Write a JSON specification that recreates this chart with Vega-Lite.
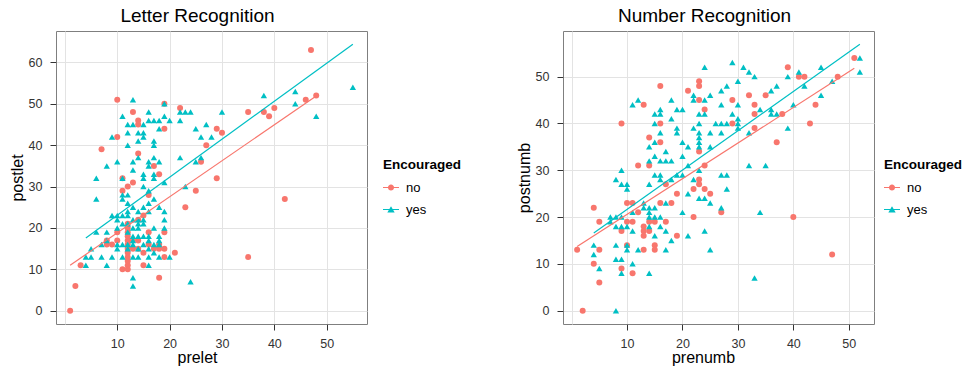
{
  "$schema": "https://vega.github.io/schema/vega-lite/v6.json",
  "padding": {"left": 8, "top": 6, "right": 0, "bottom": 0},
  "spacing": 52,
  "config": {
    "font": "Liberation Sans",
    "view": {"stroke": "#7F7F7F", "strokeWidth": 1},
    "axis": {"labelFontSize": 12.5, "labelColor": "#333333", "titleFontSize": 16, "titleFontWeight": "normal", "titleColor": "#000000", "tickSize": 6, "labelPadding": 8, "domain": false, "gridWidth": 1,
      "gridColor": {"condition": {"test": "datum.value % 10 != 0", "value": "#F3F3F3"}, "value": "#E3E3E3"},
      "tickColor": {"condition": {"test": "datum.value % 10 != 0", "value": "transparent"}, "value": "#333333"},
      "labelExpr": "datum.value % 10 == 0 ? datum.label : ''"},
    "axisX": {"titlePadding": 0, "labelPadding": 7},
    "axisY": {"titlePadding": 3},
    "title": {"fontSize": 19, "fontWeight": "normal", "color": "#000000", "offset": 5, "anchor": "middle", "frame": "group", "dx": -14},
    "legend": {"titleFontSize": 13.5, "titleFontWeight": "bold", "titleColor": "#000000", "labelFontSize": 13, "labelColor": "#000000", "symbolSize": 256, "symbolStrokeWidth": 0, "rowPadding": 7, "labelOffset": 7, "titlePadding": 8,
      "symbolType": {"expr": "datum.value == 'no' ? 'M-1,-0.06H1V0.06H-1Z M0.38,0A0.38,0.38,0,1,1,-0.38,0A0.38,0.38,0,1,1,0.38,0Z' : 'M-1,-0.06H1V0.06H-1Z M0,-0.42L0.46,0.38L-0.46,0.38Z'"}}
  },
  "datasets": {
    "letter": [
      {"prelet":1,"postlet":0,"Encouraged":"no"},{"prelet":2,"postlet":6,"Encouraged":"no"},{"prelet":3,"postlet":11,"Encouraged":"no"},{"prelet":47,"postlet":63,"Encouraged":"no"},{"prelet":48,"postlet":52,"Encouraged":"no"},{"prelet":46,"postlet":51,"Encouraged":"no"},{"prelet":40,"postlet":49,"Encouraged":"no"},{"prelet":38,"postlet":48,"Encouraged":"no"},{"prelet":39,"postlet":47,"Encouraged":"no"},{"prelet":35,"postlet":48,"Encouraged":"no"},{"prelet":42,"postlet":27,"Encouraged":"no"},{"prelet":35,"postlet":13,"Encouraged":"no"},{"prelet":29,"postlet":44,"Encouraged":"no"},{"prelet":30,"postlet":43,"Encouraged":"no"},{"prelet":27,"postlet":40,"Encouraged":"no"},{"prelet":26,"postlet":36,"Encouraged":"no"},{"prelet":29,"postlet":32,"Encouraged":"no"},{"prelet":25,"postlet":29,"Encouraged":"no"},{"prelet":23,"postlet":25,"Encouraged":"no"},{"prelet":22,"postlet":49,"Encouraged":"no"},{"prelet":21,"postlet":14,"Encouraged":"no"},{"prelet":19,"postlet":44,"Encouraged":"no"},{"prelet":19,"postlet":50,"Encouraged":"no"},{"prelet":18,"postlet":33,"Encouraged":"no"},{"prelet":17,"postlet":35,"Encouraged":"no"},{"prelet":18,"postlet":8,"Encouraged":"no"},{"prelet":19,"postlet":15,"Encouraged":"no"},{"prelet":19,"postlet":13,"Encouraged":"no"},{"prelet":19,"postlet":19,"Encouraged":"no"},{"prelet":18,"postlet":16,"Encouraged":"no"},{"prelet":16,"postlet":19,"Encouraged":"no"},{"prelet":16,"postlet":16,"Encouraged":"no"},{"prelet":17,"postlet":15,"Encouraged":"no"},{"prelet":18,"postlet":15,"Encouraged":"no"},{"prelet":16,"postlet":28,"Encouraged":"no"},{"prelet":15,"postlet":23,"Encouraged":"no"},{"prelet":15,"postlet":14,"Encouraged":"no"},{"prelet":15,"postlet":11,"Encouraged":"no"},{"prelet":14,"postlet":17,"Encouraged":"no"},{"prelet":14,"postlet":15,"Encouraged":"no"},{"prelet":14,"postlet":38,"Encouraged":"no"},{"prelet":14,"postlet":46,"Encouraged":"no"},{"prelet":14,"postlet":45,"Encouraged":"no"},{"prelet":13,"postlet":48,"Encouraged":"no"},{"prelet":13,"postlet":31,"Encouraged":"no"},{"prelet":12,"postlet":30,"Encouraged":"no"},{"prelet":11,"postlet":32,"Encouraged":"no"},{"prelet":11,"postlet":29,"Encouraged":"no"},{"prelet":10,"postlet":51,"Encouraged":"no"},{"prelet":10,"postlet":42,"Encouraged":"no"},{"prelet":7,"postlet":39,"Encouraged":"no"},{"prelet":11,"postlet":10,"Encouraged":"no"},{"prelet":12,"postlet":10,"Encouraged":"no"},{"prelet":12,"postlet":11,"Encouraged":"no"},{"prelet":12,"postlet":12,"Encouraged":"no"},{"prelet":12,"postlet":13,"Encouraged":"no"},{"prelet":12,"postlet":14,"Encouraged":"no"},{"prelet":12,"postlet":15,"Encouraged":"no"},{"prelet":12,"postlet":16,"Encouraged":"no"},{"prelet":12,"postlet":17,"Encouraged":"no"},{"prelet":12,"postlet":18,"Encouraged":"no"},{"prelet":12,"postlet":19,"Encouraged":"no"},{"prelet":12,"postlet":20,"Encouraged":"no"},{"prelet":12,"postlet":21,"Encouraged":"no"},{"prelet":13,"postlet":15,"Encouraged":"no"},{"prelet":13,"postlet":17,"Encouraged":"no"},{"prelet":10,"postlet":19,"Encouraged":"no"},{"prelet":10,"postlet":17,"Encouraged":"no"},{"prelet":9,"postlet":16,"Encouraged":"no"},{"prelet":8,"postlet":16,"Encouraged":"no"},{"prelet":8,"postlet":17,"Encouraged":"no"},{"prelet":14,"postlet":22,"Encouraged":"no"},
      {"prelet":55,"postlet":54,"Encouraged":"yes"},{"prelet":44,"postlet":53,"Encouraged":"yes"},{"prelet":38,"postlet":52,"Encouraged":"yes"},{"prelet":44,"postlet":50,"Encouraged":"yes"},{"prelet":48,"postlet":47,"Encouraged":"yes"},{"prelet":30,"postlet":48,"Encouraged":"yes"},{"prelet":13,"postlet":51,"Encouraged":"yes"},{"prelet":19,"postlet":50,"Encouraged":"yes"},{"prelet":16,"postlet":48,"Encouraged":"yes"},{"prelet":22,"postlet":48,"Encouraged":"yes"},{"prelet":23,"postlet":48,"Encouraged":"yes"},{"prelet":24,"postlet":48,"Encouraged":"yes"},{"prelet":19,"postlet":47,"Encouraged":"yes"},{"prelet":20,"postlet":46,"Encouraged":"yes"},{"prelet":18,"postlet":46,"Encouraged":"yes"},{"prelet":17,"postlet":46,"Encouraged":"yes"},{"prelet":16,"postlet":46,"Encouraged":"yes"},{"prelet":22,"postlet":46,"Encouraged":"yes"},{"prelet":11,"postlet":47,"Encouraged":"yes"},{"prelet":12,"postlet":45,"Encouraged":"yes"},{"prelet":13,"postlet":45,"Encouraged":"yes"},{"prelet":15,"postlet":45,"Encouraged":"yes"},{"prelet":18,"postlet":44,"Encouraged":"yes"},{"prelet":25,"postlet":44,"Encouraged":"yes"},{"prelet":27,"postlet":45,"Encouraged":"yes"},{"prelet":12,"postlet":43,"Encouraged":"yes"},{"prelet":14,"postlet":43,"Encouraged":"yes"},{"prelet":15,"postlet":43,"Encouraged":"yes"},{"prelet":15,"postlet":42,"Encouraged":"yes"},{"prelet":9,"postlet":42,"Encouraged":"yes"},{"prelet":26,"postlet":42,"Encouraged":"yes"},{"prelet":28,"postlet":42,"Encouraged":"yes"},{"prelet":17,"postlet":41,"Encouraged":"yes"},{"prelet":14,"postlet":41,"Encouraged":"yes"},{"prelet":12,"postlet":40,"Encouraged":"yes"},{"prelet":17,"postlet":40,"Encouraged":"yes"},{"prelet":14,"postlet":37,"Encouraged":"yes"},{"prelet":22,"postlet":37,"Encouraged":"yes"},{"prelet":26,"postlet":37,"Encouraged":"yes"},{"prelet":25,"postlet":36,"Encouraged":"yes"},{"prelet":10,"postlet":36,"Encouraged":"yes"},{"prelet":13,"postlet":36,"Encouraged":"yes"},{"prelet":16,"postlet":36,"Encouraged":"yes"},{"prelet":17,"postlet":37,"Encouraged":"yes"},{"prelet":18,"postlet":36,"Encouraged":"yes"},{"prelet":8,"postlet":35,"Encouraged":"yes"},{"prelet":16,"postlet":35,"Encouraged":"yes"},{"prelet":13,"postlet":34,"Encouraged":"yes"},{"prelet":6,"postlet":32,"Encouraged":"yes"},{"prelet":11,"postlet":32,"Encouraged":"yes"},{"prelet":15,"postlet":33,"Encouraged":"yes"},{"prelet":15,"postlet":32,"Encouraged":"yes"},{"prelet":17,"postlet":33,"Encouraged":"yes"},{"prelet":17,"postlet":32,"Encouraged":"yes"},{"prelet":19,"postlet":31,"Encouraged":"yes"},{"prelet":23,"postlet":30,"Encouraged":"yes"},{"prelet":15,"postlet":30,"Encouraged":"yes"},{"prelet":16,"postlet":29,"Encouraged":"yes"},{"prelet":12,"postlet":28,"Encouraged":"yes"},{"prelet":11,"postlet":28,"Encouraged":"yes"},{"prelet":6,"postlet":27,"Encouraged":"yes"},{"prelet":11,"postlet":27,"Encouraged":"yes"},{"prelet":17,"postlet":27,"Encouraged":"yes"},{"prelet":12,"postlet":26,"Encouraged":"yes"},{"prelet":16,"postlet":26,"Encouraged":"yes"},{"prelet":13,"postlet":25,"Encouraged":"yes"},{"prelet":15,"postlet":25,"Encouraged":"yes"},{"prelet":18,"postlet":25,"Encouraged":"yes"},{"prelet":14,"postlet":24,"Encouraged":"yes"},{"prelet":12,"postlet":24,"Encouraged":"yes"},{"prelet":16,"postlet":24,"Encouraged":"yes"},{"prelet":19,"postlet":24,"Encouraged":"yes"},{"prelet":9,"postlet":23,"Encouraged":"yes"},{"prelet":10,"postlet":23,"Encouraged":"yes"},{"prelet":11,"postlet":23,"Encouraged":"yes"},{"prelet":12,"postlet":23,"Encouraged":"yes"},{"prelet":13,"postlet":22,"Encouraged":"yes"},{"prelet":14,"postlet":22,"Encouraged":"yes"},{"prelet":15,"postlet":22,"Encouraged":"yes"},{"prelet":10,"postlet":22,"Encouraged":"yes"},{"prelet":12,"postlet":21,"Encouraged":"yes"},{"prelet":14,"postlet":21,"Encouraged":"yes"},{"prelet":15,"postlet":21,"Encouraged":"yes"},{"prelet":6,"postlet":19,"Encouraged":"yes"},{"prelet":8,"postlet":19,"Encouraged":"yes"},{"prelet":10,"postlet":20,"Encouraged":"yes"},{"prelet":13,"postlet":20,"Encouraged":"yes"},{"prelet":14,"postlet":20,"Encouraged":"yes"},{"prelet":17,"postlet":20,"Encouraged":"yes"},{"prelet":19,"postlet":20,"Encouraged":"yes"},{"prelet":13,"postlet":18,"Encouraged":"yes"},{"prelet":14,"postlet":18,"Encouraged":"yes"},{"prelet":15,"postlet":18,"Encouraged":"yes"},{"prelet":16,"postlet":18,"Encouraged":"yes"},{"prelet":8,"postlet":17,"Encouraged":"yes"},{"prelet":13,"postlet":17,"Encouraged":"yes"},{"prelet":16,"postlet":17,"Encouraged":"yes"},{"prelet":18,"postlet":17,"Encouraged":"yes"},{"prelet":7,"postlet":16,"Encouraged":"yes"},{"prelet":10,"postlet":16,"Encouraged":"yes"},{"prelet":11,"postlet":16,"Encouraged":"yes"},{"prelet":12,"postlet":16,"Encouraged":"yes"},{"prelet":13,"postlet":16,"Encouraged":"yes"},{"prelet":15,"postlet":16,"Encouraged":"yes"},{"prelet":17,"postlet":16,"Encouraged":"yes"},{"prelet":18,"postlet":16,"Encouraged":"yes"},{"prelet":5,"postlet":15,"Encouraged":"yes"},{"prelet":10,"postlet":15,"Encouraged":"yes"},{"prelet":12,"postlet":15,"Encouraged":"yes"},{"prelet":14,"postlet":15,"Encouraged":"yes"},{"prelet":16,"postlet":15,"Encouraged":"yes"},{"prelet":4,"postlet":13,"Encouraged":"yes"},{"prelet":5,"postlet":13,"Encouraged":"yes"},{"prelet":7,"postlet":13,"Encouraged":"yes"},{"prelet":9,"postlet":13,"Encouraged":"yes"},{"prelet":11,"postlet":13,"Encouraged":"yes"},{"prelet":13,"postlet":13,"Encouraged":"yes"},{"prelet":14,"postlet":13,"Encouraged":"yes"},{"prelet":16,"postlet":13,"Encouraged":"yes"},{"prelet":18,"postlet":13,"Encouraged":"yes"},{"prelet":20,"postlet":13,"Encouraged":"yes"},{"prelet":4,"postlet":11,"Encouraged":"yes"},{"prelet":8,"postlet":11,"Encouraged":"yes"},{"prelet":16,"postlet":11,"Encouraged":"yes"},{"prelet":13,"postlet":8,"Encouraged":"yes"},{"prelet":13,"postlet":6,"Encouraged":"yes"},{"prelet":24,"postlet":7,"Encouraged":"yes"},{"prelet":19,"postlet":22,"Encouraged":"yes"},{"prelet":11,"postlet":21,"Encouraged":"yes"},{"prelet":12,"postlet":19,"Encouraged":"yes"},{"prelet":18,"postlet":18,"Encouraged":"yes"},{"prelet":17,"postlet":14,"Encouraged":"yes"}
    ],
    "letterFit": [
      {"prelet":1,"postlet":11.0,"Encouraged":"no"},{"prelet":48,"postlet":51.9,"Encouraged":"no"},
      {"prelet":4,"postlet":17.6,"Encouraged":"yes"},{"prelet":55,"postlet":64.4,"Encouraged":"yes"}
    ],
    "number": [
      {"prenumb":2,"postnumb":0,"Encouraged":"no"},{"prenumb":1,"postnumb":13,"Encouraged":"no"},{"prenumb":4,"postnumb":22,"Encouraged":"no"},{"prenumb":4,"postnumb":10,"Encouraged":"no"},{"prenumb":5,"postnumb":19,"Encouraged":"no"},{"prenumb":5,"postnumb":13,"Encouraged":"no"},{"prenumb":5,"postnumb":6,"Encouraged":"no"},{"prenumb":9,"postnumb":40,"Encouraged":"no"},{"prenumb":9,"postnumb":17,"Encouraged":"no"},{"prenumb":10,"postnumb":19,"Encouraged":"no"},{"prenumb":9,"postnumb":9,"Encouraged":"no"},{"prenumb":10,"postnumb":23,"Encouraged":"no"},{"prenumb":11,"postnumb":23,"Encouraged":"no"},{"prenumb":11,"postnumb":19,"Encouraged":"no"},{"prenumb":11,"postnumb":8,"Encouraged":"no"},{"prenumb":10,"postnumb":14,"Encouraged":"no"},{"prenumb":12,"postnumb":31,"Encouraged":"no"},{"prenumb":13,"postnumb":44,"Encouraged":"no"},{"prenumb":12,"postnumb":21,"Encouraged":"no"},{"prenumb":13,"postnumb":18,"Encouraged":"no"},{"prenumb":13,"postnumb":17,"Encouraged":"no"},{"prenumb":13,"postnumb":16,"Encouraged":"no"},{"prenumb":13,"postnumb":13,"Encouraged":"no"},{"prenumb":14,"postnumb":37,"Encouraged":"no"},{"prenumb":14,"postnumb":31,"Encouraged":"no"},{"prenumb":14,"postnumb":19,"Encouraged":"no"},{"prenumb":14,"postnumb":17,"Encouraged":"no"},{"prenumb":15,"postnumb":19,"Encouraged":"no"},{"prenumb":15,"postnumb":14,"Encouraged":"no"},{"prenumb":15,"postnumb":13,"Encouraged":"no"},{"prenumb":16,"postnumb":48,"Encouraged":"no"},{"prenumb":16,"postnumb":40,"Encouraged":"no"},{"prenumb":16,"postnumb":36,"Encouraged":"no"},{"prenumb":16,"postnumb":23,"Encouraged":"no"},{"prenumb":17,"postnumb":27,"Encouraged":"no"},{"prenumb":18,"postnumb":23,"Encouraged":"no"},{"prenumb":17,"postnumb":19,"Encouraged":"no"},{"prenumb":19,"postnumb":25,"Encouraged":"no"},{"prenumb":19,"postnumb":16,"Encouraged":"no"},{"prenumb":21,"postnumb":47,"Encouraged":"no"},{"prenumb":22,"postnumb":26,"Encouraged":"no"},{"prenumb":22,"postnumb":20,"Encouraged":"no"},{"prenumb":23,"postnumb":49,"Encouraged":"no"},{"prenumb":23,"postnumb":48,"Encouraged":"no"},{"prenumb":23,"postnumb":45,"Encouraged":"no"},{"prenumb":23,"postnumb":34,"Encouraged":"no"},{"prenumb":23,"postnumb":28,"Encouraged":"no"},{"prenumb":23,"postnumb":27,"Encouraged":"no"},{"prenumb":24,"postnumb":43,"Encouraged":"no"},{"prenumb":24,"postnumb":31,"Encouraged":"no"},{"prenumb":24,"postnumb":26,"Encouraged":"no"},{"prenumb":25,"postnumb":25,"Encouraged":"no"},{"prenumb":27,"postnumb":21,"Encouraged":"no"},{"prenumb":29,"postnumb":45,"Encouraged":"no"},{"prenumb":29,"postnumb":40,"Encouraged":"no"},{"prenumb":32,"postnumb":46,"Encouraged":"no"},{"prenumb":33,"postnumb":44,"Encouraged":"no"},{"prenumb":33,"postnumb":42,"Encouraged":"no"},{"prenumb":33,"postnumb":39,"Encouraged":"no"},{"prenumb":35,"postnumb":46,"Encouraged":"no"},{"prenumb":37,"postnumb":36,"Encouraged":"no"},{"prenumb":38,"postnumb":42,"Encouraged":"no"},{"prenumb":39,"postnumb":52,"Encouraged":"no"},{"prenumb":40,"postnumb":20,"Encouraged":"no"},{"prenumb":41,"postnumb":50,"Encouraged":"no"},{"prenumb":42,"postnumb":50,"Encouraged":"no"},{"prenumb":43,"postnumb":40,"Encouraged":"no"},{"prenumb":44,"postnumb":44,"Encouraged":"no"},{"prenumb":47,"postnumb":12,"Encouraged":"no"},{"prenumb":48,"postnumb":50,"Encouraged":"no"},{"prenumb":51,"postnumb":54,"Encouraged":"no"},
      {"prenumb":8,"postnumb":0,"Encouraged":"yes"},{"prenumb":4,"postnumb":14,"Encouraged":"yes"},{"prenumb":4,"postnumb":12,"Encouraged":"yes"},{"prenumb":5,"postnumb":9,"Encouraged":"yes"},{"prenumb":7,"postnumb":19,"Encouraged":"yes"},{"prenumb":7,"postnumb":20,"Encouraged":"yes"},{"prenumb":8,"postnumb":20,"Encouraged":"yes"},{"prenumb":8,"postnumb":18,"Encouraged":"yes"},{"prenumb":8,"postnumb":14,"Encouraged":"yes"},{"prenumb":8,"postnumb":11,"Encouraged":"yes"},{"prenumb":9,"postnumb":11,"Encouraged":"yes"},{"prenumb":9,"postnumb":8,"Encouraged":"yes"},{"prenumb":8,"postnumb":28,"Encouraged":"yes"},{"prenumb":9,"postnumb":30,"Encouraged":"yes"},{"prenumb":9,"postnumb":27,"Encouraged":"yes"},{"prenumb":10,"postnumb":27,"Encouraged":"yes"},{"prenumb":10,"postnumb":26,"Encouraged":"yes"},{"prenumb":9,"postnumb":20,"Encouraged":"yes"},{"prenumb":9,"postnumb":18,"Encouraged":"yes"},{"prenumb":10,"postnumb":18,"Encouraged":"yes"},{"prenumb":10,"postnumb":14,"Encouraged":"yes"},{"prenumb":10,"postnumb":13,"Encouraged":"yes"},{"prenumb":11,"postnumb":44,"Encouraged":"yes"},{"prenumb":12,"postnumb":45,"Encouraged":"yes"},{"prenumb":11,"postnumb":21,"Encouraged":"yes"},{"prenumb":11,"postnumb":17,"Encouraged":"yes"},{"prenumb":11,"postnumb":10,"Encouraged":"yes"},{"prenumb":12,"postnumb":13,"Encouraged":"yes"},{"prenumb":13,"postnumb":23,"Encouraged":"yes"},{"prenumb":13,"postnumb":22,"Encouraged":"yes"},{"prenumb":14,"postnumb":35,"Encouraged":"yes"},{"prenumb":14,"postnumb":32,"Encouraged":"yes"},{"prenumb":14,"postnumb":27,"Encouraged":"yes"},{"prenumb":14,"postnumb":22,"Encouraged":"yes"},{"prenumb":14,"postnumb":21,"Encouraged":"yes"},{"prenumb":14,"postnumb":20,"Encouraged":"yes"},{"prenumb":14,"postnumb":18,"Encouraged":"yes"},{"prenumb":14,"postnumb":8,"Encouraged":"yes"},{"prenumb":15,"postnumb":42,"Encouraged":"yes"},{"prenumb":15,"postnumb":40,"Encouraged":"yes"},{"prenumb":15,"postnumb":36,"Encouraged":"yes"},{"prenumb":15,"postnumb":33,"Encouraged":"yes"},{"prenumb":15,"postnumb":29,"Encouraged":"yes"},{"prenumb":15,"postnumb":22,"Encouraged":"yes"},{"prenumb":15,"postnumb":20,"Encouraged":"yes"},{"prenumb":15,"postnumb":16,"Encouraged":"yes"},{"prenumb":16,"postnumb":43,"Encouraged":"yes"},{"prenumb":16,"postnumb":42,"Encouraged":"yes"},{"prenumb":16,"postnumb":38,"Encouraged":"yes"},{"prenumb":16,"postnumb":32,"Encouraged":"yes"},{"prenumb":16,"postnumb":29,"Encouraged":"yes"},{"prenumb":16,"postnumb":28,"Encouraged":"yes"},{"prenumb":16,"postnumb":20,"Encouraged":"yes"},{"prenumb":16,"postnumb":18,"Encouraged":"yes"},{"prenumb":17,"postnumb":34,"Encouraged":"yes"},{"prenumb":17,"postnumb":32,"Encouraged":"yes"},{"prenumb":17,"postnumb":23,"Encouraged":"yes"},{"prenumb":17,"postnumb":17,"Encouraged":"yes"},{"prenumb":17,"postnumb":13,"Encouraged":"yes"},{"prenumb":18,"postnumb":45,"Encouraged":"yes"},{"prenumb":18,"postnumb":41,"Encouraged":"yes"},{"prenumb":18,"postnumb":32,"Encouraged":"yes"},{"prenumb":18,"postnumb":28,"Encouraged":"yes"},{"prenumb":18,"postnumb":15,"Encouraged":"yes"},{"prenumb":19,"postnumb":43,"Encouraged":"yes"},{"prenumb":19,"postnumb":39,"Encouraged":"yes"},{"prenumb":19,"postnumb":38,"Encouraged":"yes"},{"prenumb":19,"postnumb":29,"Encouraged":"yes"},{"prenumb":20,"postnumb":43,"Encouraged":"yes"},{"prenumb":20,"postnumb":36,"Encouraged":"yes"},{"prenumb":20,"postnumb":33,"Encouraged":"yes"},{"prenumb":20,"postnumb":29,"Encouraged":"yes"},{"prenumb":20,"postnumb":21,"Encouraged":"yes"},{"prenumb":21,"postnumb":35,"Encouraged":"yes"},{"prenumb":21,"postnumb":31,"Encouraged":"yes"},{"prenumb":21,"postnumb":25,"Encouraged":"yes"},{"prenumb":21,"postnumb":16,"Encouraged":"yes"},{"prenumb":22,"postnumb":46,"Encouraged":"yes"},{"prenumb":22,"postnumb":45,"Encouraged":"yes"},{"prenumb":22,"postnumb":39,"Encouraged":"yes"},{"prenumb":22,"postnumb":28,"Encouraged":"yes"},{"prenumb":23,"postnumb":42,"Encouraged":"yes"},{"prenumb":23,"postnumb":40,"Encouraged":"yes"},{"prenumb":23,"postnumb":38,"Encouraged":"yes"},{"prenumb":23,"postnumb":37,"Encouraged":"yes"},{"prenumb":23,"postnumb":36,"Encouraged":"yes"},{"prenumb":23,"postnumb":35,"Encouraged":"yes"},{"prenumb":23,"postnumb":30,"Encouraged":"yes"},{"prenumb":23,"postnumb":24,"Encouraged":"yes"},{"prenumb":24,"postnumb":52,"Encouraged":"yes"},{"prenumb":24,"postnumb":45,"Encouraged":"yes"},{"prenumb":24,"postnumb":42,"Encouraged":"yes"},{"prenumb":24,"postnumb":24,"Encouraged":"yes"},{"prenumb":24,"postnumb":17,"Encouraged":"yes"},{"prenumb":25,"postnumb":46,"Encouraged":"yes"},{"prenumb":25,"postnumb":38,"Encouraged":"yes"},{"prenumb":25,"postnumb":35,"Encouraged":"yes"},{"prenumb":25,"postnumb":23,"Encouraged":"yes"},{"prenumb":25,"postnumb":13,"Encouraged":"yes"},{"prenumb":26,"postnumb":40,"Encouraged":"yes"},{"prenumb":27,"postnumb":47,"Encouraged":"yes"},{"prenumb":27,"postnumb":44,"Encouraged":"yes"},{"prenumb":27,"postnumb":40,"Encouraged":"yes"},{"prenumb":27,"postnumb":38,"Encouraged":"yes"},{"prenumb":27,"postnumb":29,"Encouraged":"yes"},{"prenumb":27,"postnumb":22,"Encouraged":"yes"},{"prenumb":28,"postnumb":48,"Encouraged":"yes"},{"prenumb":28,"postnumb":40,"Encouraged":"yes"},{"prenumb":28,"postnumb":29,"Encouraged":"yes"},{"prenumb":28,"postnumb":26,"Encouraged":"yes"},{"prenumb":29,"postnumb":53,"Encouraged":"yes"},{"prenumb":29,"postnumb":42,"Encouraged":"yes"},{"prenumb":30,"postnumb":49,"Encouraged":"yes"},{"prenumb":30,"postnumb":44,"Encouraged":"yes"},{"prenumb":30,"postnumb":41,"Encouraged":"yes"},{"prenumb":30,"postnumb":40,"Encouraged":"yes"},{"prenumb":30,"postnumb":39,"Encouraged":"yes"},{"prenumb":31,"postnumb":52,"Encouraged":"yes"},{"prenumb":32,"postnumb":51,"Encouraged":"yes"},{"prenumb":32,"postnumb":38,"Encouraged":"yes"},{"prenumb":32,"postnumb":31,"Encouraged":"yes"},{"prenumb":33,"postnumb":50,"Encouraged":"yes"},{"prenumb":33,"postnumb":7,"Encouraged":"yes"},{"prenumb":34,"postnumb":43,"Encouraged":"yes"},{"prenumb":34,"postnumb":21,"Encouraged":"yes"},{"prenumb":35,"postnumb":31,"Encouraged":"yes"},{"prenumb":36,"postnumb":47,"Encouraged":"yes"},{"prenumb":36,"postnumb":43,"Encouraged":"yes"},{"prenumb":36,"postnumb":42,"Encouraged":"yes"},{"prenumb":37,"postnumb":48,"Encouraged":"yes"},{"prenumb":37,"postnumb":42,"Encouraged":"yes"},{"prenumb":39,"postnumb":50,"Encouraged":"yes"},{"prenumb":39,"postnumb":39,"Encouraged":"yes"},{"prenumb":40,"postnumb":44,"Encouraged":"yes"},{"prenumb":41,"postnumb":51,"Encouraged":"yes"},{"prenumb":42,"postnumb":48,"Encouraged":"yes"},{"prenumb":45,"postnumb":52,"Encouraged":"yes"},{"prenumb":45,"postnumb":46,"Encouraged":"yes"},{"prenumb":47,"postnumb":49,"Encouraged":"yes"},{"prenumb":52,"postnumb":54,"Encouraged":"yes"},{"prenumb":52,"postnumb":51,"Encouraged":"yes"}
    ],
    "numberFit": [
      {"prenumb":1,"postnumb":13.7,"Encouraged":"no"},{"prenumb":51,"postnumb":51.8,"Encouraged":"no"},
      {"prenumb":4,"postnumb":16.6,"Encouraged":"yes"},{"prenumb":52,"postnumb":56.9,"Encouraged":"yes"}
    ]
  },
  "hconcat": [
    {
      "width": 311,
      "height": 293,
      "title": {"text": "Letter Recognition"},
      "layer": [
        {
          "data": {"name": "letter"},
          "transform": [{"filter": "datum.Encouraged == 'no'"}],
          "mark": {"type": "point", "shape": "circle", "filled": true, "opacity": 1, "size": 36},
          "encoding": {
            "x": {"field": "prelet", "type": "quantitative", "scale": {"domain": [-1.7, 57.7], "nice": false, "zero": false}, "axis": {"values": [0, 5, 10, 15, 20, 25, 30, 35, 40, 45, 50, 55], "labelExpr": "datum.value % 10 == 0 && datum.value > 0 ? datum.label : ''", "tickColor": {"condition": {"test": "datum.value % 10 != 0 || datum.value == 0", "value": "transparent"}, "value": "#333333"}, "title": "prelet", "titleX": 141}},
            "y": {"field": "postlet", "type": "quantitative", "scale": {"domain": [-3.2, 67.6], "nice": false, "zero": false}, "axis": {"values": [0, 5, 10, 15, 20, 25, 30, 35, 40, 45, 50, 55, 60, 65], "title": "postlet"}},
            "color": {"field": "Encouraged", "type": "nominal", "scale": {"domain": ["no", "yes"], "range": ["#F8766D", "#00BFC4"]}, "legend": {"title": "Encouraged", "orient": "none", "legendX": 327, "legendY": 127}}
          }
        },
        {
          "data": {"name": "letter"},
          "transform": [{"filter": "datum.Encouraged == 'yes'"}],
          "mark": {"type": "point", "shape": "triangle-up", "filled": true, "opacity": 1, "size": 40},
          "encoding": {
            "x": {"field": "prelet", "type": "quantitative"},
            "y": {"field": "postlet", "type": "quantitative"},
            "color": {"field": "Encouraged", "type": "nominal"}
          }
        },
        {
          "data": {"name": "letterFit"},
          "mark": {"type": "line", "strokeWidth": 1.2},
          "encoding": {
            "x": {"field": "prelet", "type": "quantitative"},
            "y": {"field": "postlet", "type": "quantitative"},
            "color": {"field": "Encouraged", "type": "nominal", "legend": null}
          }
        }
      ]
    },
    {
      "width": 311,
      "height": 293,
      "title": {"text": "Number Recognition"},
      "layer": [
        {
          "data": {"name": "number"},
          "transform": [{"filter": "datum.Encouraged == 'no'"}],
          "mark": {"type": "point", "shape": "circle", "filled": true, "opacity": 1, "size": 36},
          "encoding": {
            "x": {"field": "prenumb", "type": "quantitative", "scale": {"domain": [-1.55, 54.55], "nice": false, "zero": false}, "axis": {"values": [0, 5, 10, 15, 20, 25, 30, 35, 40, 45, 50], "labelExpr": "datum.value % 10 == 0 && datum.value > 0 ? datum.label : ''", "tickColor": {"condition": {"test": "datum.value % 10 != 0 || datum.value == 0", "value": "transparent"}, "value": "#333333"}, "title": "prenumb", "titleX": 140}},
            "y": {"field": "postnumb", "type": "quantitative", "scale": {"domain": [-2.85, 59.75], "nice": false, "zero": false}, "axis": {"values": [0, 5, 10, 15, 20, 25, 30, 35, 40, 45, 50, 55], "title": "postnumb"}},
            "color": {"field": "Encouraged", "type": "nominal", "scale": {"domain": ["no", "yes"], "range": ["#F8766D", "#00BFC4"]}, "legend": {"title": "Encouraged", "orient": "none", "legendX": 321, "legendY": 127}}
          }
        },
        {
          "data": {"name": "number"},
          "transform": [{"filter": "datum.Encouraged == 'yes'"}],
          "mark": {"type": "point", "shape": "triangle-up", "filled": true, "opacity": 1, "size": 40},
          "encoding": {
            "x": {"field": "prenumb", "type": "quantitative"},
            "y": {"field": "postnumb", "type": "quantitative"},
            "color": {"field": "Encouraged", "type": "nominal"}
          }
        },
        {
          "data": {"name": "numberFit"},
          "mark": {"type": "line", "strokeWidth": 1.2},
          "encoding": {
            "x": {"field": "prenumb", "type": "quantitative"},
            "y": {"field": "postnumb", "type": "quantitative"},
            "color": {"field": "Encouraged", "type": "nominal", "legend": null}
          }
        }
      ]
    }
  ],
  "resolve": {"scale": {"color": "independent"}}
}
